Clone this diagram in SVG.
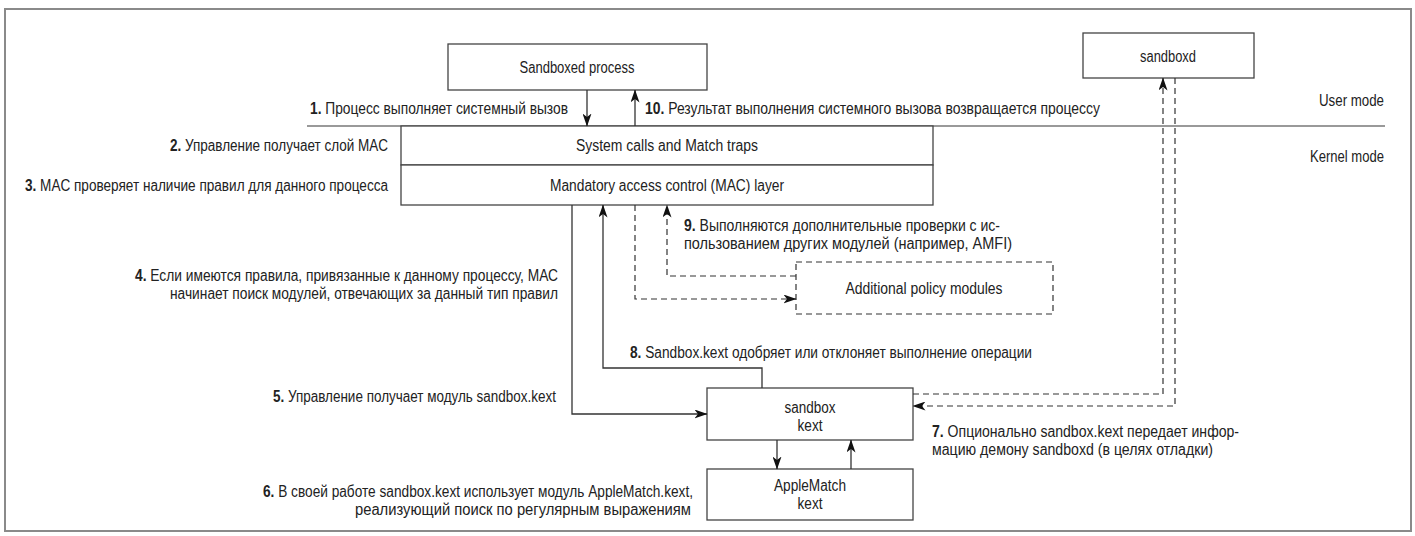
<svg xmlns="http://www.w3.org/2000/svg" width="1415" height="536" viewBox="0 0 1415 536">
<style>
text{font-family:"Liberation Sans","DejaVu Sans",sans-serif;font-size:16px;fill:#222}
.b{font-weight:bold}
.box{fill:#fff;stroke:#444;stroke-width:1.3}
.dbox{fill:#fff;stroke:#333;stroke-width:1.2;stroke-dasharray:6 4}
.ln{fill:none;stroke:#333;stroke-width:1.3}
.dl{fill:none;stroke:#333;stroke-width:1.2;stroke-dasharray:6 4}
.m{text-anchor:middle}
.e{text-anchor:end}
</style>
<defs>
<marker id="ah" viewBox="0 0 13 9" refX="12.5" refY="4.5" markerWidth="13" markerHeight="9" markerUnits="userSpaceOnUse" orient="auto">
<path d="M0,0 L13,4.5 L0,9 L3.5,4.5 z" fill="#111"/>
</marker>
</defs>
<rect x="5" y="9" width="1406" height="522" fill="#fff" stroke="#8a8a8a" stroke-width="2"/>
<line x1="307" y1="126" x2="1385" y2="126" stroke="#777" stroke-width="1.3"/>
<text x="1384" y="106" class="e" textLength="65" lengthAdjust="spacingAndGlyphs">User mode</text>
<text x="1384" y="162" class="e" textLength="74" lengthAdjust="spacingAndGlyphs">Kernel mode</text>

<g id="sandboxed-process">
<rect class="box" x="448" y="44" width="259" height="46"/>
<text x="577" y="73" class="m" textLength="115" lengthAdjust="spacingAndGlyphs">Sandboxed process</text>
</g>
<g id="sandboxd">
<rect class="box" x="1083" y="33" width="171" height="45"/>
<text x="1168" y="62" class="m" textLength="56" lengthAdjust="spacingAndGlyphs">sandboxd</text>
</g>
<g id="syscalls">
<rect class="box" x="401" y="126" width="532" height="39"/>
<text x="667" y="151" class="m" textLength="182" lengthAdjust="spacingAndGlyphs">System calls and Match traps</text>
</g>
<g id="mac-layer">
<rect class="box" x="401" y="165" width="532" height="40"/>
<text x="667" y="191" class="m" textLength="234" lengthAdjust="spacingAndGlyphs">Mandatory access control (MAC) layer</text>
</g>
<g id="additional-policy">
<rect class="dbox" x="796" y="262" width="257" height="52"/>
<text x="924" y="294" class="m" textLength="157" lengthAdjust="spacingAndGlyphs">Additional policy modules</text>
</g>
<g id="sandbox-kext">
<rect class="box" x="707" y="388" width="206" height="52"/>
<text x="810" y="413" class="m" textLength="51" lengthAdjust="spacingAndGlyphs">sandbox</text>
<text x="810" y="431" class="m" textLength="25" lengthAdjust="spacingAndGlyphs">kext</text>
</g>
<g id="applematch-kext">
<rect class="box" x="707" y="469" width="206" height="51"/>
<text x="810" y="491" class="m" textLength="72" lengthAdjust="spacingAndGlyphs">AppleMatch</text>
<text x="810" y="509" class="m" textLength="25" lengthAdjust="spacingAndGlyphs">kext</text>
</g>

<g id="connectors">
<path class="ln" d="M587,90 V126" marker-end="url(#ah)"/>
<path class="ln" d="M635,126 V90" marker-end="url(#ah)"/>
<path class="ln" d="M572,205 V414 H707" marker-end="url(#ah)"/>
<path class="ln" d="M762,388 V368 H603 V205" marker-end="url(#ah)"/>
<path class="dl" d="M635,205 V299 H796" marker-end="url(#ah)"/>
<path class="dl" d="M796,276 H667 V205" marker-end="url(#ah)"/>
<path class="dl" d="M913,394 H1163 V78" marker-end="url(#ah)"/>
<path class="dl" d="M1175,78 V406 H913" marker-end="url(#ah)"/>
<path class="ln" d="M777,440 V469" marker-end="url(#ah)"/>
<path class="ln" d="M851,469 V440" marker-end="url(#ah)"/>
</g>

<g id="labels">
<text x="310" y="114" textLength="258" lengthAdjust="spacingAndGlyphs"><tspan class="b">1.</tspan> Процесс выполняет системный вызов</text>
<text x="645" y="114" textLength="455" lengthAdjust="spacingAndGlyphs"><tspan class="b">10.</tspan> Результат выполнения системного вызова возвращается процессу</text>
<text x="170" y="151" textLength="218" lengthAdjust="spacingAndGlyphs"><tspan class="b">2.</tspan> Управление получает слой MAC</text>
<text x="25" y="191" textLength="363" lengthAdjust="spacingAndGlyphs"><tspan class="b">3.</tspan> MAC проверяет наличие правил для данного процесса</text>
<text x="684" y="231" textLength="316" lengthAdjust="spacingAndGlyphs"><tspan class="b">9.</tspan> Выполняются дополнительные проверки с ис-</text>
<text x="684" y="249" textLength="328" lengthAdjust="spacingAndGlyphs">пользованием других модулей (например, AMFI)</text>
<text x="135" y="281" textLength="423" lengthAdjust="spacingAndGlyphs"><tspan class="b">4.</tspan> Если имеются правила, привязанные к данному процессу, МАС</text>
<text x="170" y="299" textLength="388" lengthAdjust="spacingAndGlyphs">начинает поиск модулей, отвечающих за данный тип правил</text>
<text x="630" y="358" textLength="402" lengthAdjust="spacingAndGlyphs"><tspan class="b">8.</tspan> Sandbox.kext одобряет или отклоняет выполнение операции</text>
<text x="273" y="402" textLength="283" lengthAdjust="spacingAndGlyphs"><tspan class="b">5.</tspan> Управление получает модуль sandbox.kext</text>
<text x="932" y="437" textLength="307" lengthAdjust="spacingAndGlyphs"><tspan class="b">7.</tspan> Опционально sandbox.kext передает инфор-</text>
<text x="932" y="455" textLength="281" lengthAdjust="spacingAndGlyphs">мацию демону sandboxd (в целях отладки)</text>
<text x="263" y="497" textLength="430" lengthAdjust="spacingAndGlyphs"><tspan class="b">6.</tspan> В своей работе sandbox.kext использует модуль AppleMatch.kext,</text>
<text x="355" y="515" textLength="336" lengthAdjust="spacingAndGlyphs">реализующий поиск по регулярным выражениям</text>
</g>
</svg>
